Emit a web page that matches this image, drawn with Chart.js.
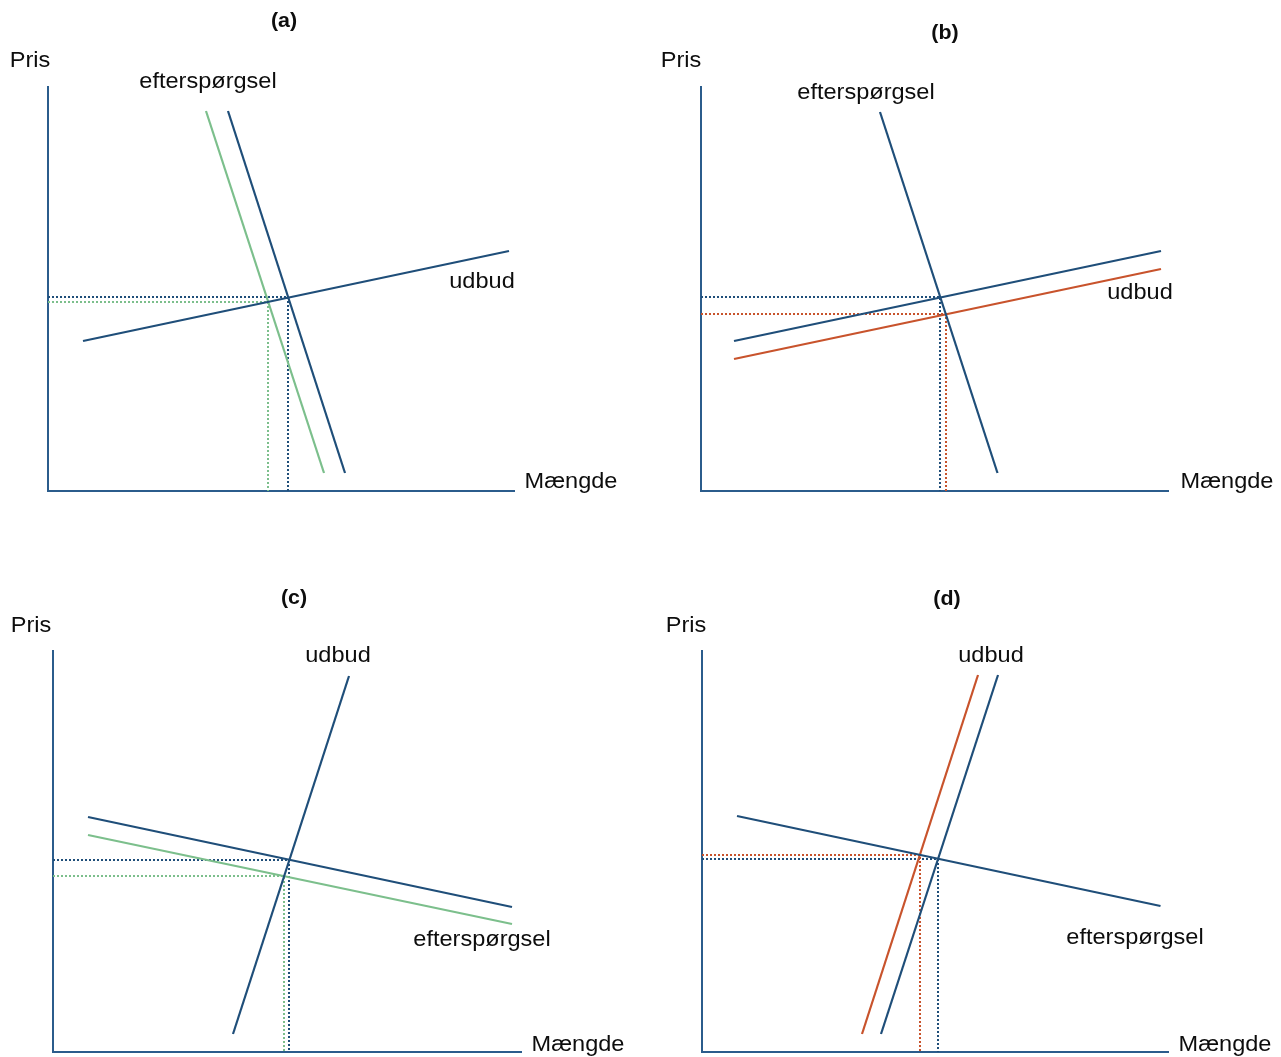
<!DOCTYPE html>
<html>
<head>
<meta charset="utf-8">
<script src="https://cdn.jsdelivr.net/npm/chart.js@4"></script>
<style>
  html, body { margin: 0; padding: 0; background: #fff; }
  body { width: 1281px; height: 1057px; position: relative; overflow: hidden; }
  canvas { position: absolute; }
</style>
</head>
<body>
<canvas id="pa" width="640" height="528" style="left:0;top:0"></canvas>
<canvas id="pb" width="641" height="528" style="left:640px;top:0"></canvas>
<canvas id="pc" width="640" height="529" style="left:0;top:528px"></canvas>
<canvas id="pd" width="641" height="529" style="left:640px;top:528px"></canvas>
<script>
// values in arbitrary units (quantity, price); each line is [start, end]
const titles = ["(a)", "(b)", "(c)", "(d)"];
const axisX = ["Mængde", "Mængde", "Mængde", "Mængde"];
const axisY = ["Pris", "Pris", "Pris", "Pris"];
const axisLen = [[46.7, 40.5], [46.8, 40.5], [46.9, 40.2], [46.7, 40.2]];

// (a) demand shifts left
const aDemandOld = [[18.0, 38.0], [29.7, 1.8]];
const aDemandNew = [[15.8, 38.0], [27.6, 1.8]];
const aSupply = [[3.5, 15.0], [46.1, 24.0]];
const aEqOld = [24.0, 19.4];
const aEqNew = [22.0, 18.9];

// (b) supply shifts down
const bDemand = [[17.9, 37.9], [29.65, 1.8]];
const bSupplyOld = [[3.3, 15.0], [46.0, 24.0]];
const bSupplyNew = [[3.3, 13.2], [46.0, 22.2]];
const bEqOld = [23.9, 19.4];
const bEqNew = [24.5, 17.7];

// (c) demand shifts down
const cSupply = [[18.0, 1.8], [29.6, 37.6]];
const cDemandOld = [[3.5, 23.5], [45.9, 14.5]];
const cDemandNew = [[3.5, 21.7], [45.9, 12.8]];
const cEqOld = [23.6, 19.2];
const cEqNew = [23.1, 17.6];

// (d) supply shifts left
const dSupplyOld = [[17.9, 1.8], [29.6, 37.7]];
const dSupplyNew = [[16.0, 1.8], [27.6, 37.7]];
const dDemand = [[3.5, 23.6], [45.85, 14.6]];
const dEqOld = [23.6, 19.3];
const dEqNew = [21.8, 19.7];

const BLUE = "#1f4e79";
const AXIS = "#2b5c8c";
const GREEN = "#7cbf8c";
const RED = "#c8532c";

// where each panel's origin sits on the page (px), 10 px per unit
const layout = [
  { id: "pa", left: 0, top: 0, w: 640, h: 528, ox: 48, oy: 491 },
  { id: "pb", left: 640, top: 0, w: 641, h: 528, ox: 701, oy: 491 },
  { id: "pc", left: 0, top: 528, w: 640, h: 529, ox: 53, oy: 1052 },
  { id: "pd", left: 640, top: 528, w: 641, h: 529, ox: 702, oy: 1052 }
];
const UNIT = 10;

// label anchors (text centres) in chart units
const labelPos = [
  { title: [23.6, 47.0], y: [-1.8, 43.0], x: [52.3, 0.9], d: [16.0, 40.9], s: [43.4, 20.9] },
  { title: [24.4, 45.8], y: [-2.0, 43.0], x: [52.6, 0.9], d: [16.5, 39.8], s: [43.9, 19.8] },
  { title: [24.1, 45.4], y: [-2.2, 42.6], x: [52.5, 0.7], d: [42.9, 11.2], s: [28.5, 39.6] },
  { title: [24.5, 45.3], y: [-1.6, 42.6], x: [52.3, 0.7], d: [43.3, 11.4], s: [28.9, 39.6] }
];

const pts = seg => seg.map(p => ({ x: p[0], y: p[1] }));
const solid = (seg, color) => ({ data: pts(seg), borderColor: color, borderWidth: 2.2, showLine: true, pointRadius: 0, fill: false });
const dotted = (eq, color) => ({
  data: [{ x: 0, y: eq[1] }, { x: eq[0], y: eq[1] }, { x: eq[0], y: 0 }],
  borderColor: color, borderWidth: 2, borderDash: [2, 2], showLine: true, pointRadius: 0, fill: false
});
const axes = len => ({
  data: [{ x: 0, y: len[1] }, { x: 0, y: 0 }, { x: len[0], y: 0 }],
  borderColor: AXIS, borderWidth: 2, showLine: true, pointRadius: 0, fill: false
});

const panelSets = [
  [solid(aSupply, BLUE), solid(aDemandOld, BLUE), solid(aDemandNew, GREEN), dotted(aEqOld, BLUE), dotted(aEqNew, GREEN)],
  [solid(bDemand, BLUE), solid(bSupplyOld, BLUE), solid(bSupplyNew, RED), dotted(bEqOld, BLUE), dotted(bEqNew, RED)],
  [solid(cSupply, BLUE), solid(cDemandOld, BLUE), solid(cDemandNew, GREEN), dotted(cEqOld, BLUE), dotted(cEqNew, GREEN)],
  [solid(dDemand, BLUE), solid(dSupplyOld, BLUE), solid(dSupplyNew, RED), dotted(dEqOld, BLUE), dotted(dEqNew, RED)]
];

const textPlugin = {
  id: "econLabels",
  afterDatasetsDraw(chart, args, opts) {
    const ctx = chart.ctx;
    const sx = chart.scales.x, sy = chart.scales.y;
    opts.items.forEach(it => {
      ctx.save();
      ctx.fillStyle = "#0d0d0d";
      ctx.textAlign = "center";
      ctx.textBaseline = "middle";
      ctx.font = it.font;
      ctx.translate(sx.getPixelForValue(it.at[0]), sy.getPixelForValue(it.at[1]));
      ctx.scale(1.07, 1);
      ctx.fillText(it.text, 0, 0);
      ctx.restore();
    });
  }
};

layout.forEach((L, i) => {
  const lp = labelPos[i];
  const plain = "22px 'Liberation Sans', Arial, sans-serif";
  const items = [
    { text: titles[i], at: lp.title, font: "bold 20px 'Liberation Sans', Arial, sans-serif" },
    { text: axisY[i], at: lp.y, font: plain },
    { text: axisX[i], at: lp.x, font: plain },
    { text: "efterspørgsel", at: lp.d, font: plain },
    { text: "udbud", at: lp.s, font: plain }
  ];
  new Chart(document.getElementById(L.id), {
    type: "scatter",
    data: { datasets: [...panelSets[i], axes(axisLen[i])] },
    options: {
      responsive: false,
      animation: false,
      layout: { padding: 0 },
      plugins: { legend: { display: false }, tooltip: { enabled: false }, econLabels: { items } },
      scales: {
        x: { type: "linear", display: false, min: (L.left - L.ox) / UNIT, max: (L.left + L.w - L.ox) / UNIT },
        y: { type: "linear", display: false, min: (L.oy - (L.top + L.h)) / UNIT, max: (L.oy - L.top) / UNIT }
      }
    },
    plugins: [textPlugin]
  });
});
</script>
</body>
</html>
